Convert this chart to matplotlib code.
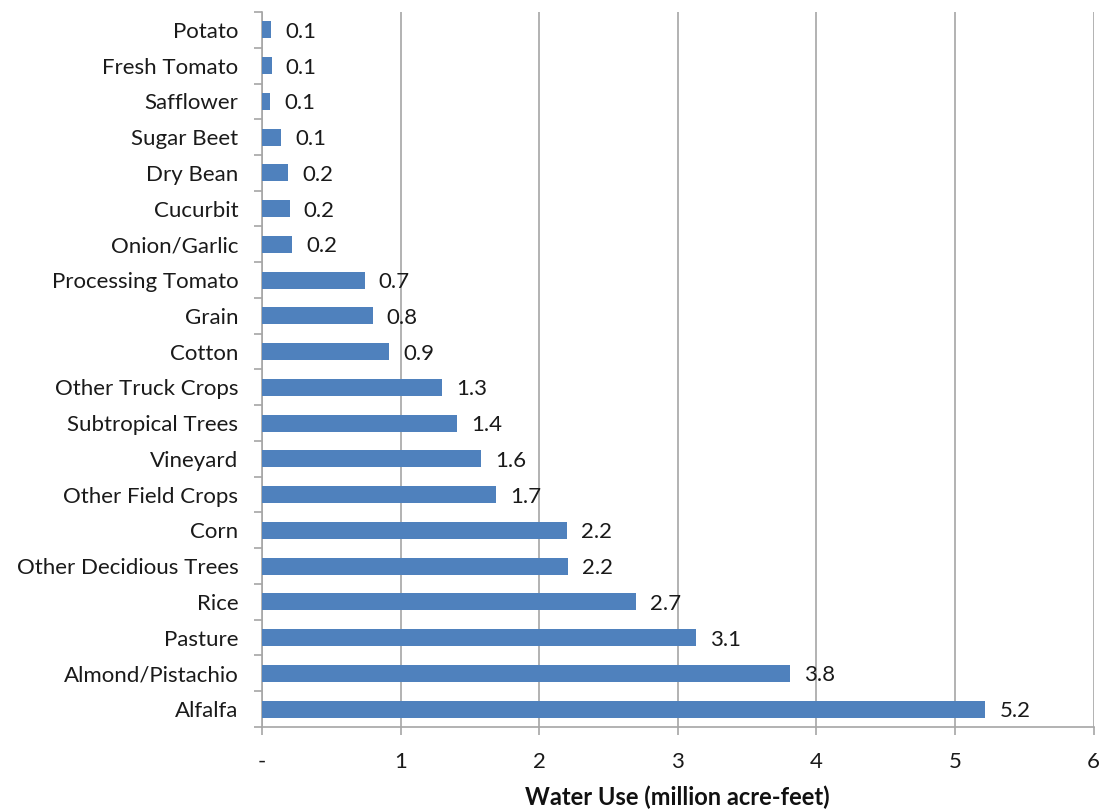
import matplotlib
matplotlib.use("Agg")
import matplotlib.pyplot as plt
from matplotlib.ticker import FixedLocator, FuncFormatter

# crops listed bottom to top (Alfalfa at the bottom of the chart)
crops = [
    "Alfalfa", "Almond/Pistachio", "Pasture", "Rice", "Other Decidious Trees",
    "Corn", "Other Field Crops", "Vineyard", "Subtropical Trees",
    "Other Truck Crops", "Cotton", "Grain", "Processing Tomato",
    "Onion/Garlic", "Cucurbit", "Dry Bean", "Sugar Beet", "Safflower",
    "Fresh Tomato", "Potato",
]
water_use = [
    5.22, 3.81, 3.13, 2.70, 2.21,
    2.20, 1.69, 1.58, 1.41,
    1.30, 0.92, 0.80, 0.74,
    0.22, 0.20, 0.19, 0.14, 0.06,
    0.07, 0.065,
]
x_ticks = [0, 1, 2, 3, 4, 5, 6]

plt.rcParams["font.family"] = ["Lato", "DejaVu Sans"]
FS = 16

fig = plt.figure(figsize=(11.02, 8.11), dpi=100)
ax = fig.add_axes([0.2377, 0.1036, 0.7546, 0.8816])

pos = list(range(len(crops)))
ax.barh(pos, water_use, height=0.48, color="#4F81BD", zorder=3)

# value labels just right of each bar
for y, v in zip(pos, water_use):
    ax.annotate(f"{v:.1f}", xy=(v, y), xytext=(14, -2), textcoords="offset pixels",
                ha="left", va="center", fontsize=FS, color="#1a1a1a")

ax.set_xlim(0, 6)
ax.set_ylim(-0.5, len(crops) - 0.5)

ax.xaxis.set_major_locator(FixedLocator(x_ticks))
ax.xaxis.set_major_formatter(FuncFormatter(lambda v, p: "-" if v == 0 else f"{v:.0f}"))
ax.grid(axis="x", color="#a6a6a6", linewidth=1.2, zorder=0)

ax.set_yticks(pos)
ax.set_yticklabels(crops)
ax.yaxis.set_minor_locator(FixedLocator([p - 0.5 for p in pos] + [len(crops) - 0.5]))
ax.tick_params(axis="y", which="major", length=0, pad=17, labelsize=FS, labelcolor="#1a1a1a")
ax.tick_params(axis="y", which="minor", length=6, color="#a6a6a6", width=1.2)
ax.tick_params(axis="x", which="major", length=6, color="#a6a6a6", width=1.2,
               pad=12, labelsize=FS, labelcolor="#1a1a1a")

for side in ["top", "right"]:
    ax.spines[side].set_visible(False)
for side in ["left", "bottom"]:
    ax.spines[side].set_color("#a6a6a6")
    ax.spines[side].set_linewidth(1.2)

ax.set_xlabel("Water Use (million acre-feet)", fontsize=17, fontweight="bold",
              labelpad=10, color="#111111")

fig.savefig("out.png", dpi=100, facecolor="white")
